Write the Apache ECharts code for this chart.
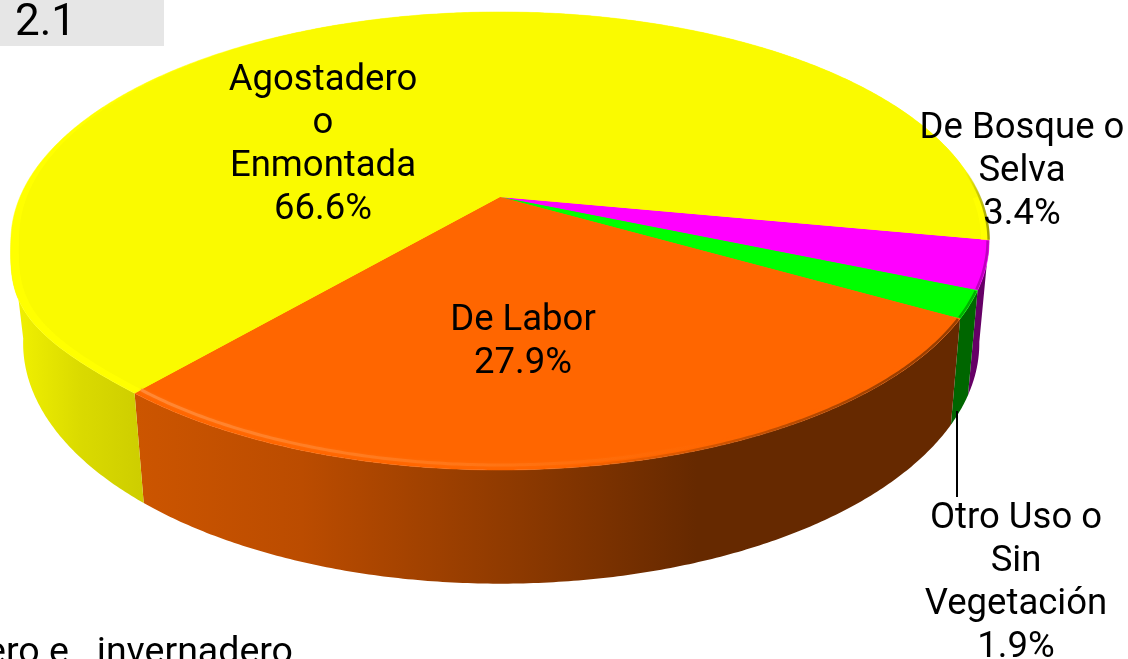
<!DOCTYPE html>
<html><head><meta charset="utf-8">
<style>html,body{margin:0;padding:0;background:#fff}#c{width:1128px;height:659px}</style>
<script src="https://cdn.jsdelivr.net/npm/echarts@6/dist/echarts.min.js"></script>
</head><body><div id="c"></div>
<script>
// Data: clockwise on screen from the magenta/yellow boundary
const categories = ['De Bosque o\nSelva', 'Otro Uso o\nSin\nVegetación', 'De Labor', 'Agostadero\no\nEnmontada'];
const shares = [3.4, 1.9, 27.9, 66.6];
const chartNumber = '2.1';
const footerText = 'ero e   invernadero';

// Styling and layout
const faceColors = ['#FF00FF', '#00FF00', '#FF6600', '#FFFF00'];
const innerColors = ['#FF00FF', '#00FF00', '#FF6600', '#FAFA00'];
const labelAnchors = [[1022, 172], [1016, 583.5], [523, 342.5], [323, 145]];
const FONT = 'Roboto, sans-serif';
const FS = 36.5, LH = 43;
const START = 10.8;
const CX = 500, CY = 197, BX = 480, AY = 220.6, PERSP = -0.192;
const DROP = 100, LOWER_X_LEFT = 0.975, LOWER_X_RIGHT = 0.98, LOWER_Y = 1.05;
const WALL_FROM = 10.8, WALL_TO = 170;

const sum = shares.reduce((a, b) => a + b, 0);
const rad = d => d * Math.PI / 180;
function project(deg, r, lower) {
  const u = r * Math.cos(rad(deg)), v = r * Math.sin(rad(deg)), w = 1 + PERSP * v;
  let x = BX * u / w, y = AY * v / w;
  if (lower) { x *= x > 0 ? LOWER_X_RIGHT : LOWER_X_LEFT; y = y * LOWER_Y + DROP; }
  else {
    // the reference's near-left rim bulges a little beyond a true ellipse
    const d = ((deg % 360) + 360) % 360;
    if (d > 130 && d < 170) x -= 10 * r * Math.pow(Math.sin((d - 130) / 40 * Math.PI), 2);
  }
  return [CX + x, CY + y];
}
function arc(a, b, rf, lower) {
  const pts = [], n = Math.max(2, Math.ceil(Math.abs(b - a) * 2));
  for (let i = 0; i <= n; i++) {
    const d = a + (b - a) * i / n;
    pts.push(project(d, typeof rf === 'function' ? rf(d) : rf, lower));
  }
  return pts;
}
// The bevel band only shows on the near half of the top face
function bevelRadius(deg) {
  const d = ((deg % 360) + 360) % 360;
  if (d <= 172) return 0.984;
  if (d < 240) return 0.984 + 0.016 * (d - 172) / 68;
  return 1;
}
const grad = (x0, x1, stops) => new echarts.graphic.LinearGradient(x0, 0, x1, 0,
  stops.map(s => ({ offset: s[0], color: s[1] })), true);
const wallFills = [
  '#660066',
  '#006600',
  grad(137, 960, [[0, '#CC5500'], [0.2, '#BB4C00'], [0.48, '#8A3800'], [0.68, '#662900'], [1, '#662900']]),
  grad(12, 150, [[0, '#F2F200'], [0.5, '#DADA00'], [1, '#CCCC00']])
];
const rimHighlights = [null, null,
  grad(137, 720, [[0, 'rgba(255,140,60,0.9)'], [0.6, 'rgba(255,130,40,0.45)'], [1, 'rgba(255,120,20,0)']]),
  null];
const rimShades = [
  'rgba(110,0,110,0.45)',
  'rgba(0,100,0,0.5)',
  grad(560, 900, [[0, 'rgba(102,41,0,0)'], [1, 'rgba(102,41,0,0.65)']]),
  grad(965, 989, [[0, 'rgba(150,150,0,0)'], [1, 'rgba(150,150,0,0.9)']])
];

function wallPieces(a0, a1) {
  const s = Math.max(a0, WALL_FROM), e = Math.min(a1, WALL_TO);
  return e > s ? [[s, e]] : [];
}

function renderSlice(params, api) {
  const i = params.dataIndex;
  let a0 = START;
  for (let k = 0; k < i; k++) a0 += shares[k] / sum * 360;
  const a1 = a0 + api.value(0) / sum * 360;
  const apex = project(0, 0, false);
  const top = arc(a0, a1, 1, false);
  const children = wallPieces(a0, a1).map(([s, e]) => ({
    type: 'polygon', z2: 1,
    shape: { points: arc(s, e, 1, false).concat(arc(e, s, 1, true)) },
    style: { fill: wallFills[i] }
  }));
  children.push(
    { type: 'polygon', z2: 10, shape: { points: [apex].concat(top) }, style: { fill: faceColors[i], stroke: faceColors[i], lineWidth: 0.5 } },
    { type: 'polygon', z2: 11, shape: { points: [apex].concat(arc(a0, a1, bevelRadius, false)) }, style: { fill: innerColors[i] } }
  );
  if (rimHighlights[i]) children.push({ type: 'polyline', z2: 12, shape: { points: arc(a0 + 0.4, a1, 0.985, false) },
    style: { fill: null, stroke: rimHighlights[i], lineWidth: 3, shadowBlur: 3, shadowColor: 'rgba(255,130,40,0.5)' } });
  const shadeArc = i === 3 ? arc(a1 - 18, a1, 0.999, false) : arc(a0 + 0.2, a1 - 0.2, 0.997, false);
  children.push({ type: 'polyline', z2: 12, shape: { points: shadeArc },
    style: { fill: null, stroke: rimShades[i], lineWidth: 2.5 } });
  children.push({ type: 'text', z2: 30, style: {
    x: labelAnchors[i][0], y: labelAnchors[i][1],
    text: categories[i] + '\n' + api.value(0).toFixed(1) + '%',
    font: FS + 'px ' + FONT, lineHeight: LH, fill: '#000', align: 'center', verticalAlign: 'middle' } });
  return { type: 'group', children };
}

const chart = echarts.init(document.getElementById('c'), null, { renderer: 'canvas' });
chart.setOption({
  animation: false,
  backgroundColor: '#fff',
  series: [{
    type: 'custom', coordinateSystem: 'none', clip: false, silent: true,
    renderItem: renderSlice,
    data: shares.map((v, i) => ({ name: categories[i], value: [v] }))
  }],
  graphic: [
    { type: 'rect', z: 0, shape: { x: 0, y: 0, width: 164, height: 46 }, style: { fill: '#E6E6E6' } },
    { type: 'text', z: 20, style: { x: 15, y: 24, text: chartNumber, font: '44px ' + FONT, fill: '#000', verticalAlign: 'middle' } },
    { type: 'line', z: 20, shape: { x1: 957, y1: 411, x2: 957, y2: 497 }, style: { stroke: '#000', lineWidth: 2 } },
    { type: 'text', z: 20, style: { x: 293, y: 654, text: footerText, font: '37.5px ' + FONT, fill: '#000', align: 'right', verticalAlign: 'middle' } }
  ]
});
</script></body></html>
